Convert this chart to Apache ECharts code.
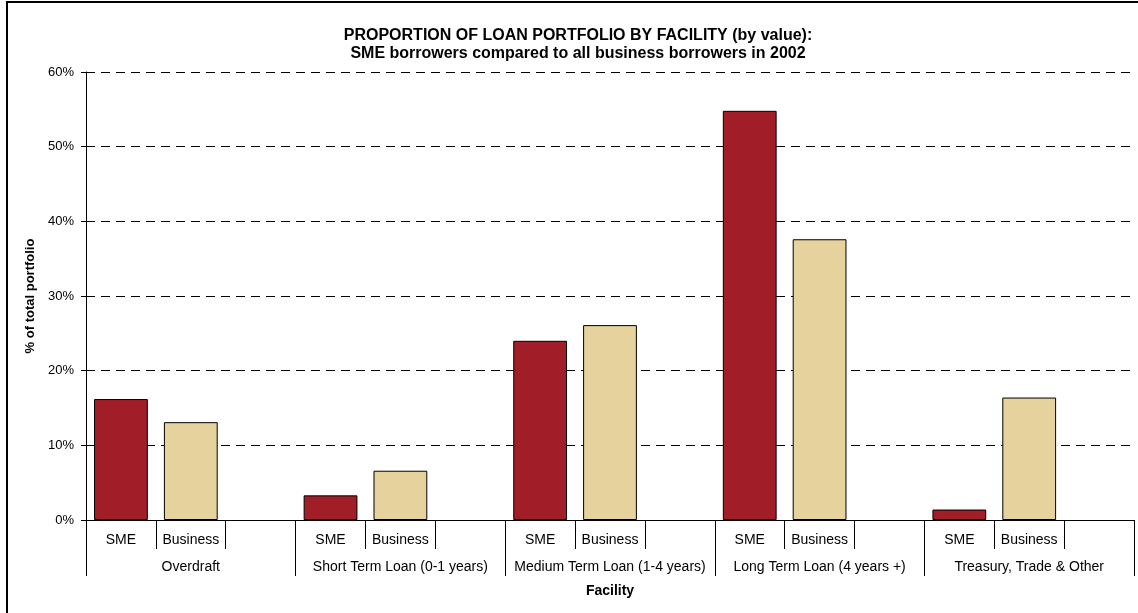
<!DOCTYPE html>
<html>
<head>
<meta charset="utf-8">
<title>Proportion of loan portfolio by facility</title>
<script src="https://cdn.jsdelivr.net/npm/echarts@6/dist/echarts.min.js"></script>
<style>
  html, body { margin: 0; padding: 0; background: #ffffff; }
  #chart { width: 1138px; height: 613px; }
</style>
</head>
<body>
<div id="chart"></div>
<script>
// Facility groups along the outer category axis
const facilities = [
  'Overdraft',
  'Short Term Loan (0-1 years)',
  'Medium Term Loan (1-4 years)',
  'Long Term Loan (4 years +)',
  'Treasury, Trade & Other'
];
// Borrower types shown inside each facility group
const borrowerTypes = ['SME', 'Business'];
// Share of total portfolio (%) per facility
const smeShare = [16.2, 3.3, 24.0, 54.8, 1.4];
const businessShare = [13.1, 6.6, 26.1, 37.6, 16.4];
// Value axis range
const yMin = 0, yMax = 60, yStep = 10;

const FONT = "'Liberation Sans', Arial, sans-serif";

// Each facility gets three slots: SME, Business, and an empty spacer slot
const slotLabels = [];
const smeSlots = [];
const businessSlots = [];
facilities.forEach((f, i) => {
  slotLabels.push(borrowerTypes[0], borrowerTypes[1], '');
  smeSlots.push(smeShare[i], null, null);
  businessSlots.push(null, businessShare[i], null);
});

const chart = echarts.init(document.getElementById('chart'), null, { renderer: 'canvas' });

chart.setOption({
  animation: false,
  backgroundColor: '#ffffff',
  title: {
    text: 'PROPORTION OF LOAN PORTFOLIO BY FACILITY (by value):\nSME borrowers compared to all business borrowers in 2002',
    left: 573,
    top: 21,
    textAlign: 'center',
    textStyle: {
      fontFamily: FONT,
      fontSize: 16,
      fontWeight: 'bold',
      color: '#000000',
      lineHeight: 18.5
    }
  },
  graphic: [{
    type: 'rect',
    shape: { x: 7, y: 2, width: 1200, height: 700 },
    style: { fill: 'none', stroke: '#000000', lineWidth: 2 },
    silent: true,
    z: 100
  }],
  grid: {
    left: 86,
    right: 4,
    top: 72,
    bottom: 93,
    containLabel: false
  },
  xAxis: [
    {
      type: 'category',
      data: slotLabels,
      position: 'bottom',
      boundaryGap: true,
      axisLine: { show: true, lineStyle: { color: '#000000', width: 1 } },
      axisTick: { show: true, interval: 0, length: 29, lineStyle: { color: '#000000', width: 1 } },
      axisLabel: {
        interval: 0,
        margin: 13,
        fontFamily: FONT,
        fontSize: 14,
        color: '#000000'
      },
      splitLine: { show: false }
    },
    {
      type: 'category',
      data: facilities,
      position: 'bottom',
      boundaryGap: true,
      axisLine: { show: false },
      axisTick: { show: true, interval: 0, length: 56, lineStyle: { color: '#000000', width: 1 } },
      axisLabel: {
        interval: 0,
        margin: 40,
        fontFamily: FONT,
        fontSize: 14,
        color: '#000000'
      },
      splitLine: { show: false },
      name: 'Facility',
      nameLocation: 'middle',
      nameGap: 64,
      nameTextStyle: {
        fontFamily: FONT,
        fontSize: 14,
        fontWeight: 'bold',
        color: '#000000'
      }
    }
  ],
  yAxis: {
    type: 'value',
    min: yMin,
    max: yMax,
    interval: yStep,
    axisLine: { show: true, lineStyle: { color: '#000000', width: 1 } },
    axisTick: { show: true, length: 5, lineStyle: { color: '#000000', width: 1 } },
    axisLabel: {
      formatter: '{value}%',
      margin: 12,
      fontFamily: FONT,
      fontSize: 13,
      color: '#000000'
    },
    splitLine: {
      show: true,
      lineStyle: { color: '#000000', width: 1, type: [9, 6] }
    },
    name: '% of total portfolio',
    nameLocation: 'middle',
    nameRotate: 90,
    nameGap: 44,
    nameTextStyle: {
      fontFamily: FONT,
      fontSize: 13,
      fontWeight: 'bold',
      color: '#000000'
    }
  },
  series: [
    {
      name: 'SME',
      type: 'bar',
      xAxisIndex: 0,
      data: smeSlots,
      barWidth: '77%',
      barGap: '-100%',
      itemStyle: { color: '#A11D27', borderColor: '#000000', borderWidth: 1 }
    },
    {
      name: 'Business',
      type: 'bar',
      xAxisIndex: 0,
      data: businessSlots,
      barWidth: '77%',
      barGap: '-100%',
      itemStyle: { color: '#E6D29C', borderColor: '#000000', borderWidth: 1 }
    }
  ]
});
</script>
</body>
</html>
